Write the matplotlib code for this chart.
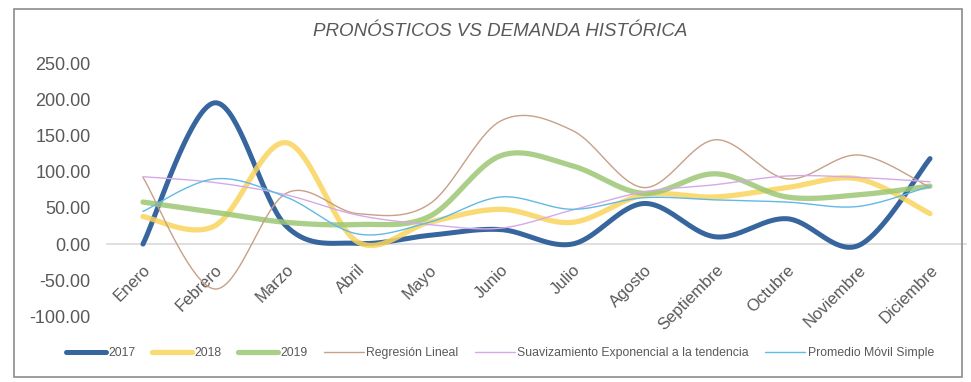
import numpy as np
import matplotlib
matplotlib.use("Agg")
import matplotlib.pyplot as plt
from matplotlib import font_manager
from matplotlib.patches import Rectangle

# ---- data ----
months = ["Enero", "Febrero", "Marzo", "Abril", "Mayo", "Junio", "Julio",
          "Agosto", "Septiembre", "Octubre", "Noviembre", "Diciembre"]

demand_2017 = [0, 195, 25, 1, 12, 20, 0, 56, 10, 35, -2, 118]
demand_2018 = [38, 25, 140, 3, 30, 48, 30, 68, 65, 78, 90, 42]
demand_2019 = [58, 44, 30, 27, 38, 122, 108, 70, 97, 65, 68, 80]
regresion_lineal = [92, -62, 70, 42, 55, 170, 157, 78, 144, 90, 123, 78]
suavizamiento_exp = [93, 85, 68, 40, 27, 22, 47, 72, 82, 94, 92, 86]
promedio_movil = [45, 90, 65, 14, 30, 65, 48, 64, 61, 58, 52, 80]

series_names = ["2017", "2018", "2019", "Regresión Lineal",
                "Suavizamiento Exponencial a la tendencia",
                "Promedio Móvil Simple"]

y_ticks = [-100, -50, 0, 50, 100, 150, 200, 250]

# ---- fonts ----
available = {f.name for f in font_manager.fontManager.ttflist}
main_font = "Liberation Sans" if "Liberation Sans" in available else "DejaVu Sans"
narrow_font = "Liberation Sans Narrow" if "Liberation Sans Narrow" in available else main_font
plt.rcParams["font.family"] = [main_font, "DejaVu Sans"]

TEXT = "#595959"


def smooth(values, n=40):
    """Excel-style smoothed line (Catmull-Rom / cubic Bezier) through the points."""
    x = np.arange(len(values), dtype=float)
    y = np.asarray(values, dtype=float)
    pts = np.column_stack([x, y])
    ext = np.vstack([pts[0], pts, pts[-1]])
    out = []
    t = np.linspace(0, 1, n)[:, None]
    for i in range(len(pts) - 1):
        p0, p1, p2, p3 = ext[i], ext[i + 1], ext[i + 2], ext[i + 3]
        c1 = p1 + (p2 - p0) / 6.0
        c2 = p2 - (p3 - p1) / 6.0
        seg = ((1 - t) ** 3) * p1 + 3 * ((1 - t) ** 2) * t * c1 \
            + 3 * (1 - t) * t ** 2 * c2 + t ** 3 * p2
        out.append(seg if i == 0 else seg[1:])
    seg = np.vstack(out)
    return seg[:, 0], seg[:, 1]


W, H = 971, 382
fig = plt.figure(figsize=(W / 100, H / 100), dpi=100)
fig.patch.set_facecolor("white")

# chart frame
fig.patches.append(Rectangle((14 / W, 5 / H), 948 / W, 368 / H,
                             transform=fig.transFigure, fill=False,
                             edgecolor="#8c8c8c", linewidth=1.2))

left, right = 107.2 / W, 965.8 / W
bottom, top = (H - 316.5) / H, (H - 63) / H
ax = fig.add_axes([left, bottom, right - left, top - bottom])
ax.set_facecolor("none")

# category axis crosses the value axis at zero
for s in ["top", "right", "left"]:
    ax.spines[s].set_visible(False)
ax.spines["bottom"].set_position(("data", 0))
ax.spines["bottom"].set_color("#d9d9d9")
ax.spines["bottom"].set_linewidth(1.2)
ax.spines["bottom"].set_zorder(0)

styles = [
    (demand_2017, "#2c5d99", 3.6, 0.95),
    (demand_2018, "#f9d45c", 3.8, 0.85),
    (demand_2019, "#9cc775", 3.8, 0.85),
    (regresion_lineal, "#c7a087", 1.0, 1.0),
    (suavizamiento_exp, "#d6a9e6", 1.0, 1.0),
    (promedio_movil, "#62b9e6", 1.0, 1.0),
]

for (vals, color, lw, alpha), name in zip(styles, series_names):
    xs, ys = smooth(vals)
    ax.plot(xs, ys, color=color, linewidth=lw, alpha=alpha,
            solid_capstyle="round", label=name)

ax.set_xlim(-0.5, len(months) - 0.5)
ax.set_ylim(-100, 250)
ax.set_yticks(y_ticks)
ax.set_yticklabels([f"{v:.2f}" for v in y_ticks], fontsize=13, color=TEXT)
ax.tick_params(axis="y", length=0, pad=12)

ax.set_xticks(range(len(months)))
ax.set_xticklabels(months, rotation=45, ha="right", va="top",
                   rotation_mode="anchor", fontsize=12, color=TEXT)
ax.tick_params(axis="x", length=0, pad=13)

fig.text(500 / W, 1 - 32 / H, "PRONÓSTICOS VS DEMANDA HISTÓRICA",
         ha="center", va="center", fontsize=13.5, style="italic", color=TEXT)

leg = fig.legend(*ax.get_legend_handles_labels(), loc="center",
                 bbox_to_anchor=(500 / W, 1 - 353 / H), ncol=6, frameon=False,
                 prop={"family": narrow_font, "size": 8.8},
                 handlelength=3.3, handletextpad=0.2, columnspacing=1.3,
                 labelcolor=TEXT)

fig.savefig("out.png", dpi=100, facecolor="white")
